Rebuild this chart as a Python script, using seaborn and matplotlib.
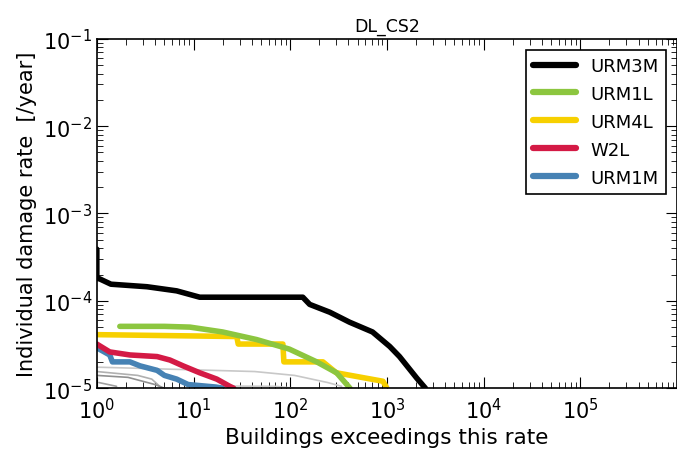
import matplotlib
matplotlib.use("Agg")
import matplotlib.pyplot as plt
import seaborn as sns
import pandas as pd

# building types (legend order) and their colours
types = ["URM3M", "URM1L", "URM4L", "W2L", "URM1M"]
colors = ["#000000", "#8cc63f", "#f7d000", "#d41a45", "#4682b4"]

# buildings exceeding rate (x) vs individual damage rate (y)
urm3m_x = [1, 1, 1.05, 1.4, 3.3, 6.7, 11.6, 135, 159, 257, 410, 710, 1070, 1350, 2040, 2500]
urm3m_y = [3.9e-4, 1.8e-4, 1.8e-4, 1.55e-4, 1.45e-4, 1.3e-4, 1.1e-4, 1.1e-4, 9.1e-5, 7.4e-5,
           5.7e-5, 4.4e-5, 3.0e-5, 2.3e-5, 1.3e-5, 1.0e-5]
urm1l_x = [1.73, 5, 9.2, 20, 45, 98, 188, 302, 415]
urm1l_y = [5.1e-5, 5.1e-5, 5.0e-5, 4.4e-5, 3.6e-5, 2.8e-5, 2.0e-5, 1.5e-5, 1.0e-5]
urm4l_x = [1, 28, 29, 84, 86, 218, 300, 910, 1000]
urm4l_y = [4.1e-5, 3.9e-5, 3.2e-5, 3.2e-5, 2.0e-5, 2.0e-5, 1.5e-5, 1.2e-5, 1.0e-5]
w2l_x = [1, 1.36, 2.2, 4.2, 5.7, 7.8, 11.6, 17.4, 23.7, 26]
w2l_y = [3.2e-5, 2.6e-5, 2.4e-5, 2.3e-5, 2.1e-5, 1.8e-5, 1.5e-5, 1.27e-5, 1.05e-5, 1.0e-5]
urm1m_x = [1, 1.36, 1.45, 2.2, 2.8, 4.2, 5.0, 6.7, 8.8, 17, 20]
urm1m_y = [2.9e-5, 2.4e-5, 2.0e-5, 2.0e-5, 1.8e-5, 1.6e-5, 1.4e-5, 1.27e-5, 1.1e-5, 1.03e-5, 1.0e-5]

# other (unlabelled) building types in grey
grey_x = [[1, 15.5, 43, 111, 167, 244, 340],
          [1, 2.65, 3.7, 4.7],
          [1, 2.1, 4.0, 5.0],
          [1.05, 1.6],
          [17, 70, 110]]
grey_y = [[1.74e-5, 1.6e-5, 1.55e-5, 1.4e-5, 1.27e-5, 1.16e-5, 1.05e-5],
          [1.55e-5, 1.4e-5, 1.27e-5, 1.0e-5],
          [1.4e-5, 1.33e-5, 1.1e-5, 1.0e-5],
          [1.16e-5, 1.05e-5],
          [1.06e-5, 1.05e-5, 1.0e-5]]
grey_c = ["#c8c8c8", "#b0b0b0", "#909090", "#a0a0a0", "#cccccc"]

sns.set_style("ticks")
plt.rcParams["font.family"] = ["DejaVu Sans"]
plt.rcParams["text.color"] = "black"
plt.rcParams["axes.labelcolor"] = "black"
plt.rcParams["xtick.color"] = "black"
plt.rcParams["ytick.color"] = "black"
plt.rcParams["axes.edgecolor"] = "black"

fig = plt.figure(figsize=(6.77, 4.52), dpi=100)
ax = fig.add_axes([0.143, 0.139, 0.857, 0.773])

for gx, gy, gc in zip(grey_x, grey_y, grey_c):
    sns.lineplot(x=gx, y=gy, color=gc, lw=1.2, sort=False, estimator=None, ax=ax)

all_x = [urm3m_x, urm1l_x, urm4l_x, w2l_x, urm1m_x]
all_y = [urm3m_y, urm1l_y, urm4l_y, w2l_y, urm1m_y]
# draw in reverse so black sits on top
for name, c, xs, ys in reversed(list(zip(types, colors, all_x, all_y))):
    sns.lineplot(x=xs, y=ys, color=c, lw=4, sort=False, estimator=None, ax=ax, label=name)

ax.set_xscale("log")
ax.set_yscale("log")
ax.set_xlim(1, 1e6)
ax.set_ylim(1e-5, 1e-1)
ax.set_xticks([1, 10, 100, 1e3, 1e4, 1e5])
ax.tick_params(which="both", direction="in", top=True, right=True, labelsize=15)
ax.tick_params(which="major", length=8)
ax.tick_params(which="minor", length=4)
ax.tick_params(axis="x", pad=6)
for s in ax.spines.values():
    s.set_linewidth(1.2)

ax.set_title("DL_CS2", fontsize=12.5)
ax.set_xlabel("Buildings exceedings this rate", fontsize=15.5)
ax.set_ylabel("Individual damage rate  [/year]", fontsize=15)

h, l = ax.get_legend_handles_labels()
order = [l.index(t) for t in types]
leg = ax.legend([h[i] for i in order], [l[i] for i in order], loc="upper right",
                fontsize=13, fancybox=False, framealpha=1, edgecolor="black",
                borderaxespad=0.6, handlelength=2.4, labelspacing=0.55)
for line in leg.get_lines():
    line.set_linewidth(4.5)
leg.get_frame().set_linewidth(1.2)

fig.savefig("out.png", dpi=100)
